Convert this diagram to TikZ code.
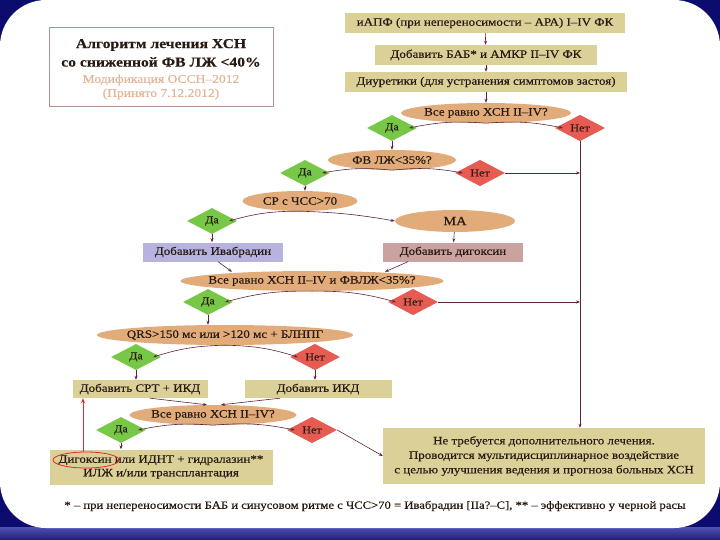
\documentclass[tikz,border=0pt]{standalone}
\usepackage{fontspec}
\setmainfont{Liberation Serif}[FakeStretch=1.15,FakeBold=0.4]
\usetikzlibrary{shapes.geometric,arrows.meta}
\definecolor{navyfr}{RGB}{12,12,110}
\definecolor{barA}{RGB}{30,30,120}
\definecolor{barB}{RGB}{80,80,180}
\definecolor{khaki}{RGB}{219,209,152}
\definecolor{tanell}{RGB}{226,172,122}
\definecolor{grn}{RGB}{120,200,72}
\definecolor{redd}{RGB}{230,92,82}
\definecolor{lav}{RGB}{182,180,222}
\definecolor{pinkb}{RGB}{202,162,160}
\definecolor{conn}{RGB}{92,38,56}
\definecolor{txt}{RGB}{40,26,18}
\definecolor{subt}{RGB}{228,182,150}
\definecolor{ttlb}{RGB}{184,144,144}
\definecolor{redmark}{RGB}{226,40,50}
\newcommand{\zw}[1]{\makebox[0pt]{#1}}
\begin{document}
\begin{tikzpicture}[x=1pt,y=-1pt,
  every node/.style={text=txt, font=\fontsize{11.3}{13}\selectfont},
  kbox/.style={fill=khaki, inner sep=0pt, minimum height=20pt},
  qell/.style={ellipse, fill=tanell, inner sep=0pt, minimum height=20pt},
  yesd/.style={diamond, fill=grn, inner sep=0pt, minimum width=50pt, minimum height=26pt, font=\fontsize{10.5}{12}\selectfont},
  nod/.style={diamond, fill=redd, inner sep=0pt, minimum width=50pt, minimum height=26pt, font=\fontsize{10.5}{12}\selectfont},
  arr/.style={draw=conn, line width=0.6pt, -{Stealth[length=4pt,width=3pt]}}
]
% frame
\fill[navyfr] (0,0) rectangle (720,540);
\shade[top color=barB, bottom color=barA] (0,527) rectangle (720,540);
\fill[white, rounded corners=46pt] (0,0) rectangle (720,528);
\fill[white] (60,0) rectangle (660,528);
\fill[white] (0,60) rectangle (720,470);
\useasboundingbox (0,0) rectangle (720,540);

% title
\node[draw=ttlb, line width=0.6pt, minimum width=224pt, minimum height=79pt] (title) at (161,67) {};
\node[font=\fontsize{13.6}{15}\bfseries\selectfont] (t1) at (161,45) {Алгоритм  лечения ХСН};
\node[font=\fontsize{13.6}{15}\bfseries\selectfont] (t2) at (161,62) {со сниженной ФВ ЛЖ <40\%};
\node[text=subt, font=\fontsize{11.8}{13}\selectfont] (t3) at (161,80) {Модификация ОССН–2012};
\node[text=subt, font=\fontsize{11.8}{13}\selectfont] (t4) at (161,94) {(Принято 7.12.2012)};

% top boxes
\node[kbox, minimum width=280pt] (b1) at (485,23) {иАПФ (при непереносимости – АРА) I–IV ФК};
\node[kbox, minimum width=222pt] (b2) at (486,55) {Добавить БАБ* и АМКР II–IV ФК};
\node[kbox, minimum width=282pt] (b3) at (486,82) {Диуретики (для устранения симптомов застоя)};
\node[qell, minimum width=170pt] (e1) at (486,113) {\zw{Все равно ХСН II–IV?}};
\node[yesd] (da1) at (392,128) {Да};
\node[nod] (net1) at (580,128) {Нет};
\node[qell, minimum width=128pt] (e2) at (392,160) {\zw{ФВ ЛЖ<35\%?}};
\node[yesd] (da2) at (305,173) {Да};
\node[nod] (net2) at (480,173) {Нет};
\node[qell, minimum width=115pt] (e3) at (300,201) {\zw{СР с ЧСС>70}};
\node[yesd] (da3) at (212,221) {Да};
\node[qell, minimum width=120pt, minimum height=22pt, font=\fontsize{12.5}{14}\selectfont] (ma) at (455,221) {\zw{МА}};
\node[fill=lav, inner sep=0pt, minimum width=140pt, minimum height=19pt] (iv) at (213,252) {Добавить Ивабрадин};
\node[fill=pinkb, inner sep=0pt, minimum width=140pt, minimum height=19pt] (dig) at (453,252) {Добавить дигоксин};
\node[qell, minimum width=263pt] (e4) at (312,281) {\zw{Все равно ХСН II–IV и ФВЛЖ<35\%?}};
\node[yesd] (da4) at (208,302) {Да};
\node[nod] (net4) at (413,302) {Нет};
\node[qell, minimum width=256pt] (e5) at (225,335) {\zw{QRS>150 мс или >120 мс + БЛНПГ}};
\node[yesd] (da5) at (136,357) {Да};
\node[nod] (net5) at (315,357) {Нет};
\node[kbox, minimum width=135pt, minimum height=18pt] (crt) at (140,389) {Добавить СРТ + ИКД};
\node[kbox, minimum width=147pt, minimum height=18pt] (ikd) at (318,389) {Добавить ИКД};
\node[qell, minimum width=167pt] (e6) at (213,415) {\zw{Все равно ХСН II–IV?}};
\node[yesd] (da6) at (121,430) {Да};
\node[nod] (net6) at (312,430) {Нет};
\node[kbox, minimum width=223pt, minimum height=35pt, align=center, font=\fontsize{11.3}{13.5}\selectfont] (alt) at (161,467) {Дигоксин или ИДНТ + гидралазин**\\ИЛЖ  и/или трансплантация};
\node[kbox, minimum width=322pt, minimum height=56pt, align=center, font=\fontsize{11.3}{14.5}\selectfont] (fin) at (544,456) {Не требуется дополнительного лечения.\\Проводится  мультидисциплинарное воздействие\\с целью улучшения ведения и прогноза больных ХСН};
\node[font=\fontsize{11}{12}\selectfont] (foot) at (375,506) {* – при непереносимости БАБ и синусовом ритме с ЧСС>70 = Ивабрадин [IIa?–C], ** – эффективно у черной расы};

% red mark
\node[draw=redmark, line width=0.8pt, ellipse, minimum width=66pt, minimum height=16pt, inner sep=0pt] (rm) at (86,460) {};
\draw[draw=redmark, line width=1pt, -{Stealth[length=5pt,width=4pt]}] ([xshift=-3pt]rm.north) -- ([xshift=-3pt]rm.north |- crt.south);

% connectors
\draw[arr] (b1) -- (b2);
\draw[arr] (b2) -- (b3);
\draw[arr] (b3) -- (e1);
\draw[arr] (e1.south) to[bend right=8] ([xshift=-8pt]da1.east);
\draw[arr] (e1.south) to[bend left=8] ([xshift=8pt]net1.west);
\draw[arr] (da1) -- (e2);
\draw[arr] (net1.south) -- (net1.south |- fin.north);
\draw[arr] (e2.south) to[bend right=8] ([xshift=-8pt]da2.east);
\draw[arr] (e2.south) to[bend left=8] ([xshift=8pt]net2.west);
\draw[arr] (net2.east) -- (net2.east -| net1.south);
\draw[arr] (da2) -- (da2 |- e3.north);
\draw[arr] (e3.south) to[bend right=8] ([xshift=-8pt]da3.east);
\draw[arr] (e3.south) to[bend left=4] (ma.west);
\draw[arr] (da3) -- (da3 |- iv.north);
\draw[arr] (ma) -- (dig);
\draw[arr] ([xshift=5pt]iv.south) -- ([xshift=-80pt,yshift=-1pt]e4.north);
\draw[arr] ([xshift=-45pt]dig.south) -- ([xshift=73pt,yshift=-1pt]e4.north);
\draw[arr] (e4.south) to[bend right=8] ([xshift=-8pt]da4.east);
\draw[arr] (e4.south) to[bend left=8] ([xshift=8pt]net4.west);
\draw[arr] (net4.east) -- (net4.east -| net1.south);
\draw[arr] (da4) -- (da4 |- e5.north);
\draw[arr] (e5.south) to[bend right=8] ([xshift=-8pt]da5.east);
\draw[arr] (e5.south) to[bend left=8] ([xshift=8pt]net5.west);
\draw[arr] (da5.south) -- (da5.south |- crt.north);
\draw[arr] (net5) -- (net5 |- ikd.north);
\draw[arr] ([xshift=10pt]crt.south) -- ([xshift=-6pt]e6.north);
\draw[arr] ([xshift=-38pt]ikd.south) -- ([xshift=8pt]e6.north);
\draw[arr] (e6.south) to[bend right=8] ([xshift=-8pt]da6.east);
\draw[arr] (e6.south) to[bend left=8] ([xshift=8pt]net6.west);
\draw[arr] (net6.east) -- (fin.west);
\draw[arr] (da6) -- (da6 |- alt.north);
\end{tikzpicture}
\end{document}
